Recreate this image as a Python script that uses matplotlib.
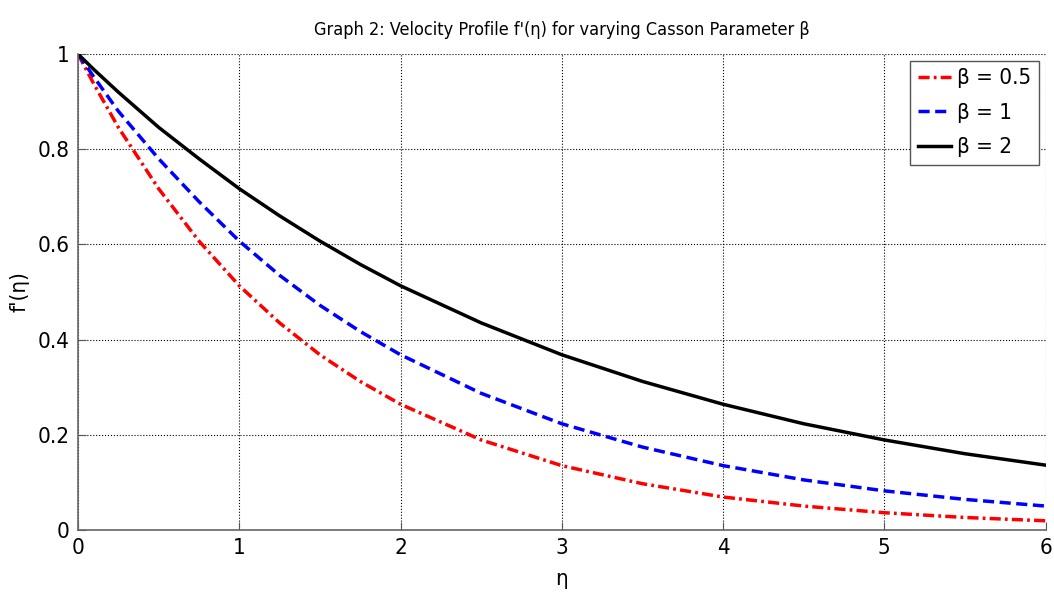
import numpy as np
import matplotlib
matplotlib.use('Agg')
import matplotlib.pyplot as plt

plt.rcParams['font.family'] = ['DejaVu Sans']
plt.rcParams['font.stretch'] = 'condensed'

## Valori
eta = [0, 0.1, 0.25, 0.5, 0.75, 1, 1.25, 1.5, 1.75, 2, 2.5, 3, 3.5, 4, 4.5, 5, 5.5, 6]
f_b05 = [1, 0.936, 0.846, 0.717, 0.607, 0.513, 0.435, 0.368, 0.312, 0.264, 0.189,
         0.135, 0.097, 0.069, 0.050, 0.036, 0.026, 0.019]
f_b1 = [1, 0.951, 0.88, 0.78, 0.69, 0.607, 0.535, 0.472, 0.417, 0.368, 0.287,
        0.223, 0.174, 0.135, 0.105, 0.082, 0.064, 0.05]
f_b2 = [1, 0.967, 0.92, 0.846, 0.78, 0.717, 0.66, 0.607, 0.558, 0.513, 0.435,
        0.368, 0.312, 0.264, 0.223, 0.189, 0.16, 0.136]
labels = ['β = 0.5', 'β = 1', 'β = 2']
xticks = [0, 1, 2, 3, 4, 5, 6]
yticks = [0, 0.2, 0.4, 0.6, 0.8, 1]

fig = plt.figure(figsize=(10.54, 5.94), dpi=100)
ax = fig.add_axes([0.074, 0.108, 0.918, 0.801])

ax.plot(eta, f_b05, color='red', lw=2.5, dashes=(3.2, 1.2, 0.8, 1.2), label=labels[0])
ax.plot(eta, f_b1, color='blue', lw=2.5, dashes=(3.2, 1.6), label=labels[1])
ax.plot(eta, f_b2, '-', color='black', lw=2.5, label=labels[2])

ax.set_xlim(0, 6)
ax.set_ylim(0, 1)
ax.set_xticks(xticks)
ax.set_yticks(yticks)
ax.set_xticklabels([str(t) for t in xticks])
ax.set_yticklabels(['0', '0.2', '0.4', '0.6', '0.8', '1'])
ax.tick_params(direction='in', labelsize=16, length=6, color='#555555', pad=6)
ax.grid(True, linestyle=':', color='black', lw=0.8)
for s in ['top', 'right']:
    ax.spines[s].set_visible(False)
for s in ['left', 'bottom']:
    ax.spines[s].set_color('#666666')
    ax.spines[s].set_linewidth(1.2)

ax.set_xlabel('η', fontsize=16, labelpad=8)
ax.set_ylabel("f'(η)", fontsize=16, labelpad=6)
ax.set_title("Graph 2: Velocity Profile f'(η) for varying Casson Parameter β",
             fontsize=13, pad=14)

leg = ax.legend(loc='upper right', fontsize=16, fancybox=False, framealpha=1,
                handlelength=1.5, handletextpad=0.25, borderaxespad=0.3,
                labelspacing=0.65, borderpad=0.35)
leg.get_frame().set_edgecolor('#555555')

plt.savefig('out.png', dpi=100)
